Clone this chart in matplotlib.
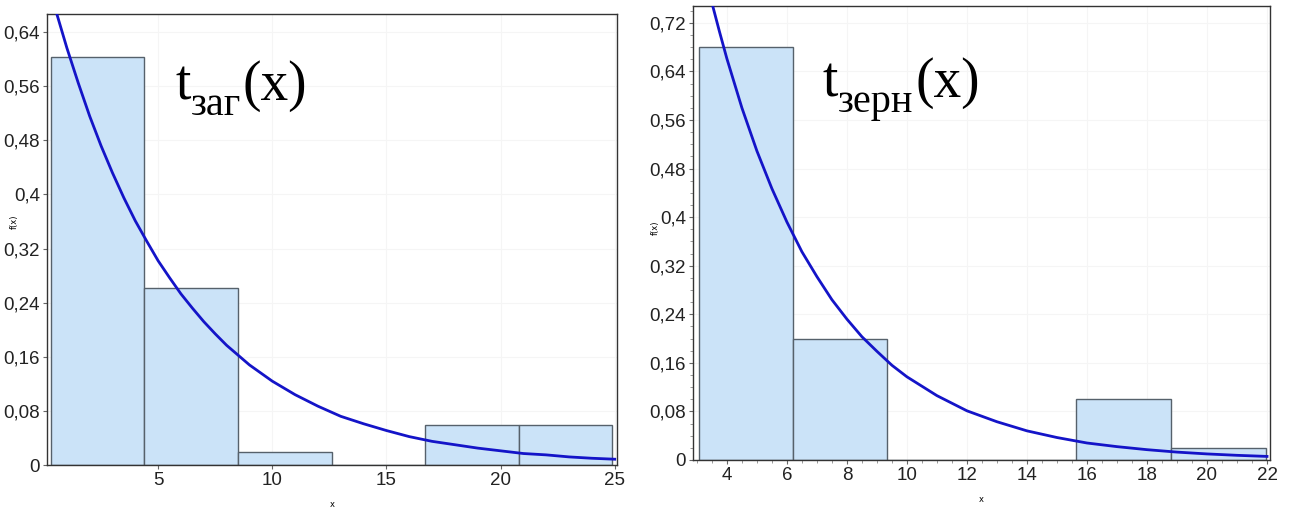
import numpy as np
import matplotlib
matplotlib.use("Agg")
import matplotlib.pyplot as plt
from matplotlib.ticker import FuncFormatter, MultipleLocator

# left panel: t_заг histogram + fitted density
zag_edges = [0.3, 4.4, 8.5, 12.6, 16.7, 20.8, 24.9]
zag_heights = [0.603, 0.262, 0.019, 0.0, 0.059, 0.059]
zag_curve_x = [0.0, 0.5, 1, 1.5, 2, 2.5, 3, 3.5, 4, 4.5, 5, 5.5, 6, 6.5,
               7, 7.5, 8, 9, 10, 11, 12, 13, 14, 15, 16, 17, 18, 19, 20,
               21, 22, 23, 24, 25]
zag_curve_y = [0.737, 0.674, 0.617, 0.565, 0.516, 0.472, 0.432, 0.395,
               0.361, 0.331, 0.302, 0.277, 0.253, 0.232, 0.212, 0.194,
               0.177, 0.148, 0.124, 0.104, 0.087, 0.072, 0.061, 0.051,
               0.042, 0.035, 0.030, 0.025, 0.021, 0.017, 0.015, 0.012,
               0.010, 0.0086]
zag_yticks = [0, 0.08, 0.16, 0.24, 0.32, 0.4, 0.48, 0.56, 0.64]
zag_xticks = [5, 10, 15, 20, 25]

# right panel: t_зерн histogram + fitted density
zern_edges = [3.07, 6.2, 9.35, 12.5, 15.65, 18.8, 21.95]
zern_heights = [0.680, 0.199, 0.0, 0.0, 0.100, 0.020]
zern_curve_x = [3.0, 3.25, 3.5, 3.75, 4, 4.5, 5, 5.5, 6, 6.5, 7, 7.5, 8,
                8.5, 9, 9.5, 10, 11, 12, 13, 14, 15, 16, 17, 18, 19, 20,
                21, 22]
zern_curve_y = [0.858, 0.804, 0.753, 0.706, 0.661, 0.580, 0.509, 0.447,
                0.392, 0.343, 0.302, 0.264, 0.232, 0.203, 0.179, 0.156,
                0.137, 0.106, 0.081, 0.063, 0.048, 0.037, 0.028, 0.022,
                0.017, 0.013, 0.010, 0.0077, 0.0059]
zern_yticks = [0, 0.08, 0.16, 0.24, 0.32, 0.4, 0.48, 0.56, 0.64, 0.72]
zern_xticks = [4, 6, 8, 10, 12, 14, 16, 18, 20, 22]

BAR_FACE = '#cbe3f8'
BAR_EDGE = '#56616b'
CURVE = '#1414c8'
TICK_FONT = ['Liberation Sans Narrow', 'Liberation Sans']
TITLE_FONT = 'Liberation Serif'


def comma_fmt(v, pos):
    s = ('%.2f' % v).rstrip('0').rstrip('.')
    return s.replace('.', ',')


def put_title(ax, x, y, sub):
    t = ax.text(x, y, 't', transform=ax.transAxes, fontsize=40,
                family=TITLE_FONT, va='baseline', ha='left')
    s = ax.annotate(sub, xy=(1, 0), xycoords=t, xytext=(0, -9),
                    textcoords='offset points', fontsize=29,
                    family=TITLE_FONT, va='bottom', ha='left')
    ax.annotate('(x)', xy=(1, 0), xycoords=(s, t), xytext=(1, 0),
                textcoords='offset points', fontsize=40,
                family=TITLE_FONT, va='bottom', ha='left')


def draw_panel(ax, edges, heights, cx, cy, yticks, xticks, xlim, ylim):
    edges = np.array(edges)
    ax.bar(edges[:-1], heights, width=np.diff(edges), align='edge',
           color=BAR_FACE, edgecolor=BAR_EDGE, linewidth=1.0, zorder=2)
    ax.plot(cx, cy, color=CURVE, lw=2.0, zorder=3)
    ax.set_xlim(*xlim)
    ax.set_ylim(*ylim)
    ax.set_yticks(yticks)
    ax.set_xticks(xticks)
    ax.yaxis.set_major_formatter(FuncFormatter(comma_fmt))
    ax.grid(True, color='#f5f5f5', lw=0.8, zorder=0)
    ax.tick_params(labelsize=13.5, length=3, color='#666666', pad=2)
    for sp in ax.spines.values():
        sp.set_color('#333333')
        sp.set_linewidth(1.0)
    for lab in ax.get_xticklabels() + ax.get_yticklabels():
        lab.set_family(TICK_FONT)
        lab.set_color('#222222')
    ax.set_xlabel('x', fontsize=6, labelpad=8)


fig = plt.figure(figsize=(12.9, 5.08), dpi=100)
ax1 = fig.add_axes([0.0364, 0.0846, 0.4419, 0.888])
ax2 = fig.add_axes([0.5372, 0.0945, 0.4473, 0.894])

draw_panel(ax1, zag_edges, zag_heights, zag_curve_x, zag_curve_y,
           zag_yticks, zag_xticks, (0.13, 25.1), (0, 0.667))
draw_panel(ax2, zern_edges, zern_heights, zern_curve_x, zern_curve_y,
           zern_yticks, zern_xticks, (2.87, 22.1), (0, 0.748))
put_title(ax1, 0.225, 0.81, 'заг')
put_title(ax2, 0.225, 0.80, 'зерн')

ax2.xaxis.set_minor_locator(MultipleLocator(0.5))
ax2.yaxis.set_minor_locator(MultipleLocator(0.02))
ax2.tick_params(which='minor', length=2, color='#888888')

fig.text(14 / 1290, 1 - 222 / 508, 'f(x)', fontsize=6, rotation=90,
         ha='center', va='center')
fig.text(655 / 1290, 1 - 228 / 508, 'f(x)', fontsize=6, rotation=90,
         ha='center', va='center')

fig.savefig('out.png', dpi=100)
